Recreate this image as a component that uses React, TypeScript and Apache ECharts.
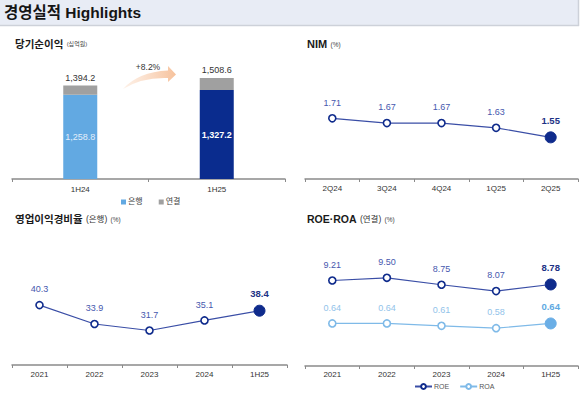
import React, { useEffect, useRef } from "react";
import * as echarts from "echarts";

const barCats = ["1H24", "1H25"];
const bankNet = [1258.8, 1327.2];
const consolNet = [1394.2, 1508.6];
const growthLabel = "+8.2%";
const nimCats = ["2Q24", "3Q24", "4Q24", "1Q25", "2Q25"];
const nimVals = [1.71, 1.67, 1.67, 1.63, 1.55];
const yearCats = ["2021", "2022", "2023", "2024", "1H25"];
const cirVals = [40.3, 33.9, 31.7, 35.1, 38.4];
const roeVals = [9.21, 9.5, 8.75, 8.07, 8.78];
const roaVals = [0.64, 0.64, 0.61, 0.58, 0.64];

const FONT = "'Liberation Sans', 'Noto Sans CJK KR', sans-serif";
const NAVY = "#0f2b8c";
const LINE_NAVY = "#3a4ea6";
const LBL_NAVY = "#4657ae";
const LIGHT = "#7fbae8";
const LIGHT_FILL = "#6aaee6";

let registered = false;
function registerShapes() {
  if (registered) return;
  registered = true;
  echarts.graphic.registerShape(
    "growArrow",
    echarts.graphic.extendPath(
      "M123,89 Q138,72 168,70.5 L168,66 L176,74.5 L168,82 L168,78 Q142,77 123,89 Z",
      {}
    )
  );
}

function fmtComma(v: number) {
  return v.toLocaleString("en-US", { minimumFractionDigits: 1, maximumFractionDigits: 1 });
}

function lineData(vals: number[], dec: number, lineCol: string, fillCol: string, lblCol: string, lastLblCol: string) {
  return vals.map((v, i) => {
    const last = i === vals.length - 1;
    return {
      value: v,
      symbolSize: last ? 11 : 7,
      itemStyle: last
        ? { color: fillCol, borderColor: fillCol, borderWidth: 1 }
        : { color: "#ffffff", borderColor: lineCol, borderWidth: 1.6 },
      label: {
        show: true,
        position: "top",
        distance: last ? 6 : 7,
        fontSize: last ? 9.5 : 9,
        fontWeight: last ? "bold" : "normal",
        color: last ? lastLblCol : lblCol,
        fontFamily: FONT,
        formatter: () => v.toFixed(dec),
      },
    };
  });
}

function xAxisFor(grid: number, data: string[], margin: number) {
  return {
    type: "category",
    gridIndex: grid,
    data,
    boundaryGap: true,
    axisLine: { show: true, lineStyle: { color: "#8a8a8a", width: 1.5 } },
    axisTick: { show: true, length: 3, lineStyle: { color: "#8a8a8a", width: 1 } },
    axisLabel: { fontSize: 8, color: "#333", margin, fontFamily: FONT },
    splitLine: { show: false },
  };
}

function yAxisFor(grid: number, min: number, max: number) {
  return { type: "value", gridIndex: grid, min, max, show: false, splitLine: { show: false } };
}

export default function App() {
  const ref = useRef<HTMLDivElement>(null);
  useEffect(() => {
    document.body.style.margin = "0";
    registerShapes();
    const chart = echarts.init(ref.current!, null, { renderer: "svg" });
    const diff = consolNet.map((t, i) => Math.round((t - bankNet[i]) * 10) / 10);
    const option = {
      animation: false,
      textStyle: { fontFamily: FONT },
      grid: [
        { left: 12, top: 45, width: 273, height: 134 },
        { left: 305, top: 60, width: 273, height: 119 },
        { left: 12, top: 247, width: 275, height: 118 },
        { left: 305, top: 236, width: 273, height: 130 },
      ],
      xAxis: [
        xAxisFor(0, barCats, 6),
        xAxisFor(1, nimCats, 5),
        xAxisFor(2, yearCats, 5),
        xAxisFor(3, yearCats, 4),
      ],
      yAxis: [
        yAxisFor(0, 0, 2000),
        yAxisFor(1, 1.2, 2.2),
        yAxisFor(2, 20, 60),
        yAxisFor(3, 0, 14),
        yAxisFor(3, 0.1, 1.75),
      ],
      legend: [
        {
          data: [
            { name: "은행", icon: "rect" },
            { name: "연결", icon: "rect" },
          ],
          left: 121,
          top: 198,
          itemWidth: 5,
          itemHeight: 5,
          itemGap: 16,
          textStyle: { fontSize: 8, color: "#444", fontFamily: FONT, padding: [0, 0, 0, -3] },
          padding: 0,
        },
        {
          data: ["ROE", "ROA"],
          left: 414,
          top: 383,
          itemWidth: 17,
          itemHeight: 6,
          itemGap: 10,
          textStyle: { fontSize: 7, color: "#555", fontFamily: FONT, padding: [0, 0, 0, -3] },
          padding: 0,
        },
      ],
      series: [
        {
          name: "은행",
          type: "bar",
          xAxisIndex: 0,
          yAxisIndex: 0,
          stack: "net",
          barWidth: 34,
          itemStyle: { color: "#62a9e2" },
          data: bankNet.map((v, i) => ({
            value: v,
            itemStyle: { color: i === 0 ? "#62a9e2" : "#0a2c8e" },
            label: {
              show: true,
              position: "inside",
              fontSize: 9,
              fontWeight: i === 0 ? "normal" : "bold",
              color: i === 0 ? "#e3eefa" : "#ffffff",
              fontFamily: FONT,
              formatter: () => fmtComma(v),
            },
          })),
        },
        {
          name: "연결",
          type: "bar",
          xAxisIndex: 0,
          yAxisIndex: 0,
          stack: "net",
          barWidth: 34,
          itemStyle: { color: "#a0a0a0" },
          label: {
            show: true,
            position: "top",
            distance: 3,
            fontSize: 9,
            color: "#333",
            fontFamily: FONT,
            formatter: (p: any) => fmtComma(consolNet[p.dataIndex]),
          },
          data: diff,
        },
        {
          name: "NIM",
          type: "line",
          xAxisIndex: 1,
          yAxisIndex: 1,
          symbol: "circle",
          lineStyle: { color: LINE_NAVY, width: 1.2 },
          itemStyle: { color: LINE_NAVY },
          data: lineData(nimVals, 2, NAVY, NAVY, LBL_NAVY, "#1d3285"),
        },
        {
          name: "영업이익경비율",
          type: "line",
          xAxisIndex: 2,
          yAxisIndex: 2,
          symbol: "circle",
          lineStyle: { color: LINE_NAVY, width: 1.2 },
          itemStyle: { color: LINE_NAVY },
          data: lineData(cirVals, 1, NAVY, NAVY, LBL_NAVY, "#1d3285"),
        },
        {
          name: "ROE",
          type: "line",
          xAxisIndex: 3,
          yAxisIndex: 3,
          symbol: "circle",
          lineStyle: { color: LINE_NAVY, width: 1.2 },
          itemStyle: { color: "#ffffff", borderColor: NAVY, borderWidth: 1.6 },
          data: lineData(roeVals, 2, NAVY, NAVY, LBL_NAVY, "#1d3285"),
        },
        {
          name: "ROA",
          type: "line",
          xAxisIndex: 3,
          yAxisIndex: 4,
          symbol: "circle",
          lineStyle: { color: LIGHT, width: 1.2 },
          itemStyle: { color: "#ffffff", borderColor: LIGHT, borderWidth: 1.6 },
          data: lineData(roaVals, 2, LIGHT, LIGHT_FILL, "#92c3ea", "#5ea9e2"),
        },
      ],
      graphic: [
        { type: "rect", shape: { x: 0, y: 0, width: 579, height: 25 }, style: { fill: "#e8ecf5" }, silent: true },
        { type: "line", shape: { x1: 0, y1: 25.5, x2: 579, y2: 25.5 }, style: { stroke: "#cdd1d9", lineWidth: 1.5 } },
        { type: "line", shape: { x1: 578.5, y1: 0, x2: 578.5, y2: 26 }, style: { stroke: "#cdd1d9", lineWidth: 1.5 } },
        {
          type: "text",
          x: 4,
          y: 12.5,
          style: { text: "경영실적 Highlights", font: `bold 15.5px ${FONT}`, fill: "#151515", verticalAlign: "middle" },
        },
        {
          type: "text",
          x: 15,
          y: 44,
          style: {
            text: "{t|당기순이익} {u|(십억원)}",
            verticalAlign: "middle",
            rich: {
              t: { font: `bold 10.5px ${FONT}`, fill: "#1a1a1a" },
              u: { font: `6px ${FONT}`, fill: "#444" },
            },
          },
        },
        {
          type: "text",
          x: 307,
          y: 44,
          style: {
            text: "{t|NIM} {u|(%)}",
            verticalAlign: "middle",
            rich: {
              t: { font: `bold 11px ${FONT}`, fill: "#1a1a1a" },
              u: { font: `6.5px ${FONT}`, fill: "#444" },
            },
          },
        },
        {
          type: "text",
          x: 15,
          y: 219,
          style: {
            text: "{t|영업이익경비율} {m|(은행)} {u|(%)}",
            verticalAlign: "middle",
            rich: {
              t: { font: `bold 10.5px ${FONT}`, fill: "#1a1a1a" },
              m: { font: `8.5px ${FONT}`, fill: "#333" },
              u: { font: `6.5px ${FONT}`, fill: "#444" },
            },
          },
        },
        {
          type: "text",
          x: 307,
          y: 219,
          style: {
            text: "{t|ROE·ROA} {m|(연결)} {u|(%)}",
            verticalAlign: "middle",
            rich: {
              t: { font: `bold 10.5px ${FONT}`, fill: "#1a1a1a" },
              m: { font: `8.5px ${FONT}`, fill: "#333" },
              u: { font: `6.5px ${FONT}`, fill: "#444" },
            },
          },
        },
        {
          type: "growArrow",
          x: 0,
          y: 0,
          style: {
            fill: new echarts.graphic.LinearGradient(0, 0, 1, 0, [
              { offset: 0, color: "rgba(250,214,188,0.35)" },
              { offset: 1, color: "#f6c19b" },
            ]),
          },
        },
        {
          type: "text",
          x: 148,
          y: 67,
          style: { text: growthLabel, font: `8.5px ${FONT}`, fill: "#333", align: "center", verticalAlign: "middle" },
        },
      ],
    };
    chart.setOption(option as any);
    return () => chart.dispose();
  }, []);
  return <div ref={ref} style={{ width: 580, height: 393 }} />;
}
